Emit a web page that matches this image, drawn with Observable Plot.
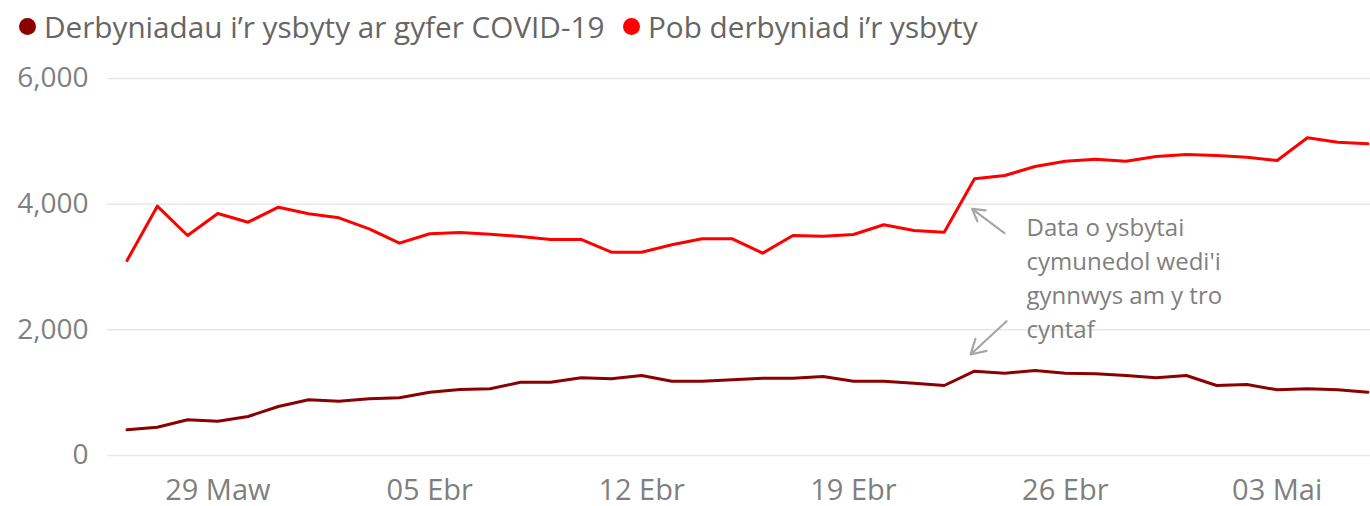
<!DOCTYPE html>
<html>
<head>
<meta charset="utf-8">
<script src="https://cdn.jsdelivr.net/npm/d3@7"></script>
<script src="https://cdn.jsdelivr.net/npm/@observablehq/plot@0.6"></script>
<style>
  html, body { margin: 0; padding: 0; background: #fff; }
  body { width: 1370px; height: 506px; overflow: hidden; font-family: "Open Sans", sans-serif; }
  #legend { position: relative; height: 47px; }
  .item { position: absolute; top: 0; height: 52px; display: flex; align-items: center; font-size: 29.7px; color: #666; white-space: nowrap; }
  .dot { width: 17px; height: 17px; border-radius: 50%; margin-right: 8px; }
  svg { overflow: visible; display: block; }
</style>
</head>
<body>
<div id="legend"></div>
<div id="chart"></div>
<script>
const dates = [
  "2020-03-26","2020-03-27","2020-03-28","2020-03-29","2020-03-30","2020-03-31",
  "2020-04-01","2020-04-02","2020-04-03","2020-04-04","2020-04-05","2020-04-06","2020-04-07",
  "2020-04-08","2020-04-09","2020-04-10","2020-04-11","2020-04-12","2020-04-13","2020-04-14",
  "2020-04-15","2020-04-16","2020-04-17","2020-04-18","2020-04-19","2020-04-20","2020-04-21",
  "2020-04-22","2020-04-23","2020-04-24","2020-04-25","2020-04-26","2020-04-27","2020-04-28",
  "2020-04-29","2020-04-30","2020-05-01","2020-05-02","2020-05-03","2020-05-04","2020-05-05",
  "2020-05-06"
];
const covidAdmissions = [
  409, 450, 568, 546, 621, 780, 886, 864, 902, 918, 1007, 1050, 1061, 1167,
  1167, 1236, 1220, 1273, 1183, 1183, 1204, 1230, 1230, 1257, 1183, 1183, 1151,
  1114, 1342, 1310, 1353, 1310, 1300, 1273, 1236, 1273, 1114, 1130, 1045, 1061,
  1045, 1007
];
const allAdmissions = [
  3104, 3968, 3501, 3852, 3713, 3952, 3847, 3783, 3608, 3379, 3530, 3550, 3522, 3485,
  3438, 3438, 3236, 3236, 3353, 3449, 3449, 3220, 3501, 3491, 3517, 3672, 3580,
  3554, 4403, 4456, 4600, 4684, 4716, 4684, 4759, 4791, 4775, 4748, 4695, 5056,
  4987, 4960
];
const seriesNames = ["Derbyniadau i\u2019r ysbyty ar gyfer COVID-19", "Pob derbyniad i\u2019r ysbyty"];
const seriesColors = ["#8b0000", "#ff0000"];
const yTicks = [0, 2000, 4000, 6000];
const xTickDates = ["2020-03-29","2020-04-05","2020-04-12","2020-04-19","2020-04-26","2020-05-03"];
const xTickLabels = ["29 Maw","05 Ebr","12 Ebr","19 Ebr","26 Ebr","03 Mai"];
const annotationText = "Data o ysbytai\ncymunedol wedi'i\ngynnwys am y tro\ncyntaf";
const annotationAt = {date: "2020-04-24T17:15Z", value: 3883};
const arrowsFrom = [{date: "2020-04-23T23:45Z", value: 3538}, {date: "2020-04-24T01:25Z", value: 2137}];
const arrowsTo = [{date: "2020-04-22T22:05Z", value: 3926}, {date: "2020-04-22T20:53Z", value: 1607}];

// legend
const legend = document.getElementById("legend");
const legendLeft = [19, 623];
seriesNames.forEach((name, i) => {
  const it = document.createElement("div");
  it.className = "item";
  it.style.left = legendLeft[i] + "px";
  it.innerHTML = `<span class="dot" style="background:${seriesColors[i]}"></span><span>${name}</span>`;
  legend.appendChild(it);
});

const data = [];
dates.forEach((d, i) => {
  data.push({date: new Date(d), value: covidAdmissions[i], series: seriesNames[0]});
});
dates.forEach((d, i) => {
  data.push({date: new Date(d), value: allAdmissions[i], series: seriesNames[1]});
});
const arrows = arrowsFrom.map((f, i) => ({
  x1: new Date(f.date), y1: f.value, x2: new Date(arrowsTo[i].date), y2: arrowsTo[i].value
}));
const labelMap = new Map(xTickDates.map((d, i) => [+new Date(d), xTickLabels[i]]));

const chart = Plot.plot({
  width: 1370,
  height: 459,
  marginTop: 31,
  marginBottom: 51,
  marginLeft: 107,
  marginRight: 0,
  style: {fontFamily: "Open Sans, sans-serif", background: "#fff"},
  x: {
    type: "utc",
    domain: [new Date("2020-03-25T08:30Z"), new Date("2020-05-06T02:00Z")],
    ticks: xTickDates.map(d => new Date(d)),
    tickFormat: d => labelMap.get(+d),
    label: null
  },
  y: {domain: [0, 6000], ticks: yTicks, label: null, tickFormat: d3.format(",")},
  color: {domain: seriesNames, range: seriesColors},
  marks: [
    Plot.ruleY(yTicks, {stroke: "#e8e8e8", strokeWidth: 1.5}),
    Plot.axisY({ticks: yTicks, tickSize: 0, tickPadding: 19, fontSize: 28, fill: "#7f7f7f", label: null, tickFormat: d3.format(",")}),
    Plot.axisX({ticks: xTickDates.map(d => new Date(d)), tickFormat: d => labelMap.get(+d), tickSize: 0, tickPadding: 24, fontSize: 29, fill: "#7f7f7f", label: null}),
    Plot.line(data, {x: "date", y: "value", z: "series", stroke: "series", strokeWidth: 3, curve: "linear"}),
    Plot.arrow(arrows, {x1: "x1", y1: "y1", x2: "x2", y2: "y2", stroke: "#a6a6a6", strokeWidth: 2.2, headLength: 13}),
    Plot.text([annotationAt], {x: d => new Date(d.date), y: "value", text: () => annotationText, textAnchor: "start", lineAnchor: "top", lineHeight: 1.42, fontSize: 24, fill: "#7f7f7f"})
  ]
});
document.getElementById("chart").appendChild(chart);
</script>
</body>
</html>
